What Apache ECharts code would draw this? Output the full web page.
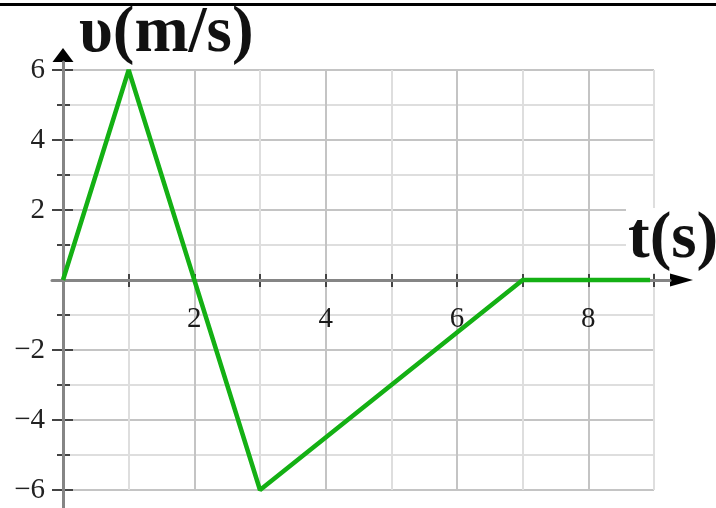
<!DOCTYPE html>
<html>
<head>
<meta charset="utf-8">
<script src="https://cdn.jsdelivr.net/npm/echarts@6/dist/echarts.min.js"></script>
<style>
  html, body { margin: 0; padding: 0; background: #fff; }
  #chart { width: 716px; height: 508px; }
</style>
</head>
<body>
<div id="chart"></div>
<script>
// velocity-time graph data
const tValues = [0, 1, 3, 7, 8.94]
const vValues = [0, 6, -6, 0, 0]
const xTickLabels = [2, 4, 6, 8]
const yTickLabels = [-6, -4, -2, 2, 4, 6]
const yName = 'υ(m/s)'
const xName = 't(s)'

const serif = 'Liberation Serif'
const tickColor = '#444'
const gridDark = '#c4c4c4'
const gridLight = '#dedede'

const chart = echarts.init(document.getElementById('chart'))

const fmtY = (v) => {
  if (!yTickLabels.includes(v)) return ''
  return v < 0 ? '\u2212' + (-v) : String(v)
}
const fmtX = (v) => (xTickLabels.includes(v) ? String(v) : '')

const hidden = {
  axisTick: { show: false },
  axisLabel: { show: false },
  splitLine: { show: false }
}

const option = {
  backgroundColor: '#fff',
  animation: false,
  title: [
    {
      text: yName, left: 79, top: 2, padding: 0,
      textStyle: { fontFamily: serif, fontWeight: 'bold', fontSize: 65, color: '#111' }
    },
    {
      text: xName, left: 626, top: 208, padding: [0, 2],
      backgroundColor: '#fff',
      textStyle: { fontFamily: serif, fontWeight: 'bold', fontSize: 65, color: '#111' }
    }
  ],
  graphic: [
    { type: 'rect', shape: { x: 0, y: 3, width: 716, height: 3 }, style: { fill: '#000' } }
  ],
  grid: [
    { left: 63, right: 62, top: 70, bottom: 18, outerBoundsMode: 'none' },    // plot area
    { left: 52, right: 46, top: 62, bottom: 0, outerBoundsMode: 'none' },     // gray axis lines
    { left: 63, right: 34.5, top: 55, bottom: 228, outerBoundsMode: 'none' }, // arrow heads
    { left: 63, right: 62, top: 70, bottom: 228, outerBoundsMode: 'none' }    // t labels under the axis
  ],
  xAxis: [
    {
      gridIndex: 0, type: 'value', min: 0, max: 9, interval: 1, position: 'bottom',
      axisLine: { show: true, onZero: true, lineStyle: { opacity: 0 } },
      axisTick: { length: 7, lineStyle: { color: tickColor, width: 2 } },
      axisLabel: { show: false },
      splitLine: { lineStyle: { color: [gridDark, gridLight], width: 2 } }
    },
    {
      gridIndex: 0, type: 'value', min: 0, max: 9, interval: 1, position: 'top',
      axisLine: { show: true, onZero: true, lineStyle: { opacity: 0 } },
      axisTick: { length: 6, lineStyle: { color: tickColor, width: 2 } },
      axisLabel: { show: false },
      splitLine: { show: false }
    },
    {
      gridIndex: 1, type: 'value', min: -11, max: 607, z: 1,
      axisLine: { onZero: true, onZeroAxisIndex: 2, lineStyle: { color: '#858585', width: 3 } },
      ...hidden
    },
    {
      gridIndex: 2, type: 'value', min: 0, max: 1, position: 'bottom', z: 0,
      axisLine: {
        onZero: false, symbol: ['none', 'triangle'], symbolSize: [13, 23],
        lineStyle: { color: '#000', width: 2 }
      },
      ...hidden
    },
    {
      gridIndex: 3, type: 'value', min: 0, max: 9, interval: 1, position: 'bottom',
      axisLine: { show: false, onZero: false },
      axisTick: { show: false },
      axisLabel: { formatter: fmtX, margin: 25, fontFamily: serif, fontSize: 29, color: '#1a1a1a' },
      splitLine: { show: false }
    }
  ],
  yAxis: [
    {
      gridIndex: 0, type: 'value', min: -6, max: 6, interval: 2, position: 'left',
      axisLine: { show: true, onZero: true, lineStyle: { opacity: 0 } },
      axisTick: { length: 11, lineStyle: { color: tickColor, width: 2 } },
      minorTick: { show: true, splitNumber: 2, length: 6, lineStyle: { color: tickColor, width: 2 } },
      axisLabel: { formatter: fmtY, margin: 18, fontFamily: serif, fontSize: 29, color: '#222' },
      splitLine: { lineStyle: { color: gridDark, width: 2 } },
      minorSplitLine: { show: true, lineStyle: { color: gridLight, width: 2 } }
    },
    {
      gridIndex: 0, type: 'value', min: -6, max: 6, interval: 2, position: 'right',
      axisLine: { show: true, onZero: true, lineStyle: { opacity: 0 } },
      axisTick: { length: 10, lineStyle: { color: tickColor, width: 2 } },
      minorTick: { show: true, splitNumber: 2, length: 7, lineStyle: { color: tickColor, width: 2 } },
      axisLabel: { show: false },
      splitLine: { show: false }
    },
    {
      gridIndex: 1, type: 'value', min: -228, max: 218, z: 1,
      axisLine: { onZero: true, onZeroAxisIndex: 2, lineStyle: { color: '#858585', width: 3 } },
      ...hidden
    },
    {
      gridIndex: 2, type: 'value', min: 0, max: 1, position: 'left', z: 0,
      axisLine: {
        onZero: false, symbol: ['none', 'triangle'], symbolSize: [21, 14],
        lineStyle: { color: '#000', width: 2 }
      },
      ...hidden
    },
    {
      gridIndex: 3, type: 'value', min: 0, max: 6,
      axisLine: { show: false },
      ...hidden
    }
  ],
  series: [
    {
      type: 'line',
      xAxisIndex: 0,
      yAxisIndex: 0,
      data: tValues.map((t, i) => [t, vValues[i]]),
      symbol: 'none',
      z: 5,
      lineStyle: { color: '#14b014', width: 4.5 }
    }
  ]
}

chart.setOption(option)
</script>
</body>
</html>
